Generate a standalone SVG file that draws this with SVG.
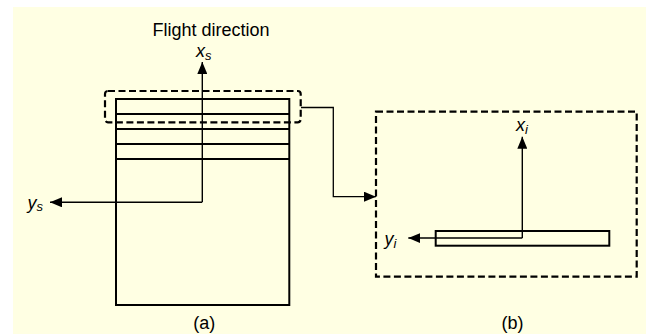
<svg xmlns="http://www.w3.org/2000/svg" width="657" height="334" viewBox="0 0 657 334">
<defs>
<marker id="ah" viewBox="0 0 12 10" refX="12" refY="5" markerWidth="12" markerHeight="10" markerUnits="userSpaceOnUse" orient="auto">
<path d="M0,0 L12,5 L0,10 Z" fill="#000"/>
</marker>
<style>
text{font-family:"Liberation Sans",Arial,sans-serif;fill:#000}
.lbl{font-size:18px}
.ax{font-size:18px;font-style:italic}
.sub{font-size:13px}
.frame{fill:none;stroke:#000;stroke-width:2}
.dash{fill:none;stroke:#000;stroke-width:2.2;stroke-dasharray:7 3.5}
.axis{fill:none;stroke:#000;stroke-width:1.4}
.conn{fill:none;stroke:#000;stroke-width:1.3}
</style>
</defs>
<rect x="13" y="7" width="633" height="327" fill="#FFFFE3"/>
<text class="lbl" x="211" y="35.5" text-anchor="middle">Flight direction</text>
<g id="strips-a">
<rect class="frame" x="116" y="99" width="173.3" height="206"/>
<line class="frame" x1="116" y1="114" x2="289.3" y2="114"/>
<line class="frame" x1="116" y1="129" x2="289.3" y2="129"/>
<line class="frame" x1="116" y1="144" x2="289.3" y2="144"/>
<line class="frame" x1="116" y1="159" x2="289.3" y2="159"/>
</g>
<g id="selection-a">
<rect class="dash" x="105" y="91" width="195.7" height="31.3" rx="3"/>
</g>
<g id="axes-a">
<polyline class="axis" points="202.3,202 202.3,62" marker-end="url(#ah)"/>
<polyline class="axis" points="202.3,202.3 50,202.3" marker-end="url(#ah)"/>
<text class="ax" x="196" y="57.3">x<tspan class="sub" dy="3">s</tspan></text>
<text class="ax" x="27.5" y="208.5">y<tspan class="sub" dy="2">s</tspan></text>
</g>
<g id="view-b">
<rect class="dash" x="376" y="111.7" width="260.7" height="165"/>
</g>
<g id="strip-b">
<rect class="frame" x="435.7" y="231" width="173.6" height="14.7"/>
</g>
<g id="axes-b">
<polyline class="axis" points="522.3,238 522.3,136.7" marker-end="url(#ah)"/>
<polyline class="axis" points="522.3,238 408.3,238" marker-end="url(#ah)"/>
<text class="ax" x="516" y="131">x<tspan class="sub" dy="3">i</tspan></text>
<text class="ax" x="384.5" y="244.5">y<tspan class="sub" dy="3">i</tspan></text>
</g>
<g id="connectors">
<polyline class="conn" points="301,107.5 333.3,107.5 333.3,196.7 376,196.7" marker-end="url(#ah)"/>
</g>
<text class="lbl" x="204.3" y="328.7" text-anchor="middle">(a)</text>
<text class="lbl" x="512.5" y="328.7" text-anchor="middle">(b)</text>
</svg>
